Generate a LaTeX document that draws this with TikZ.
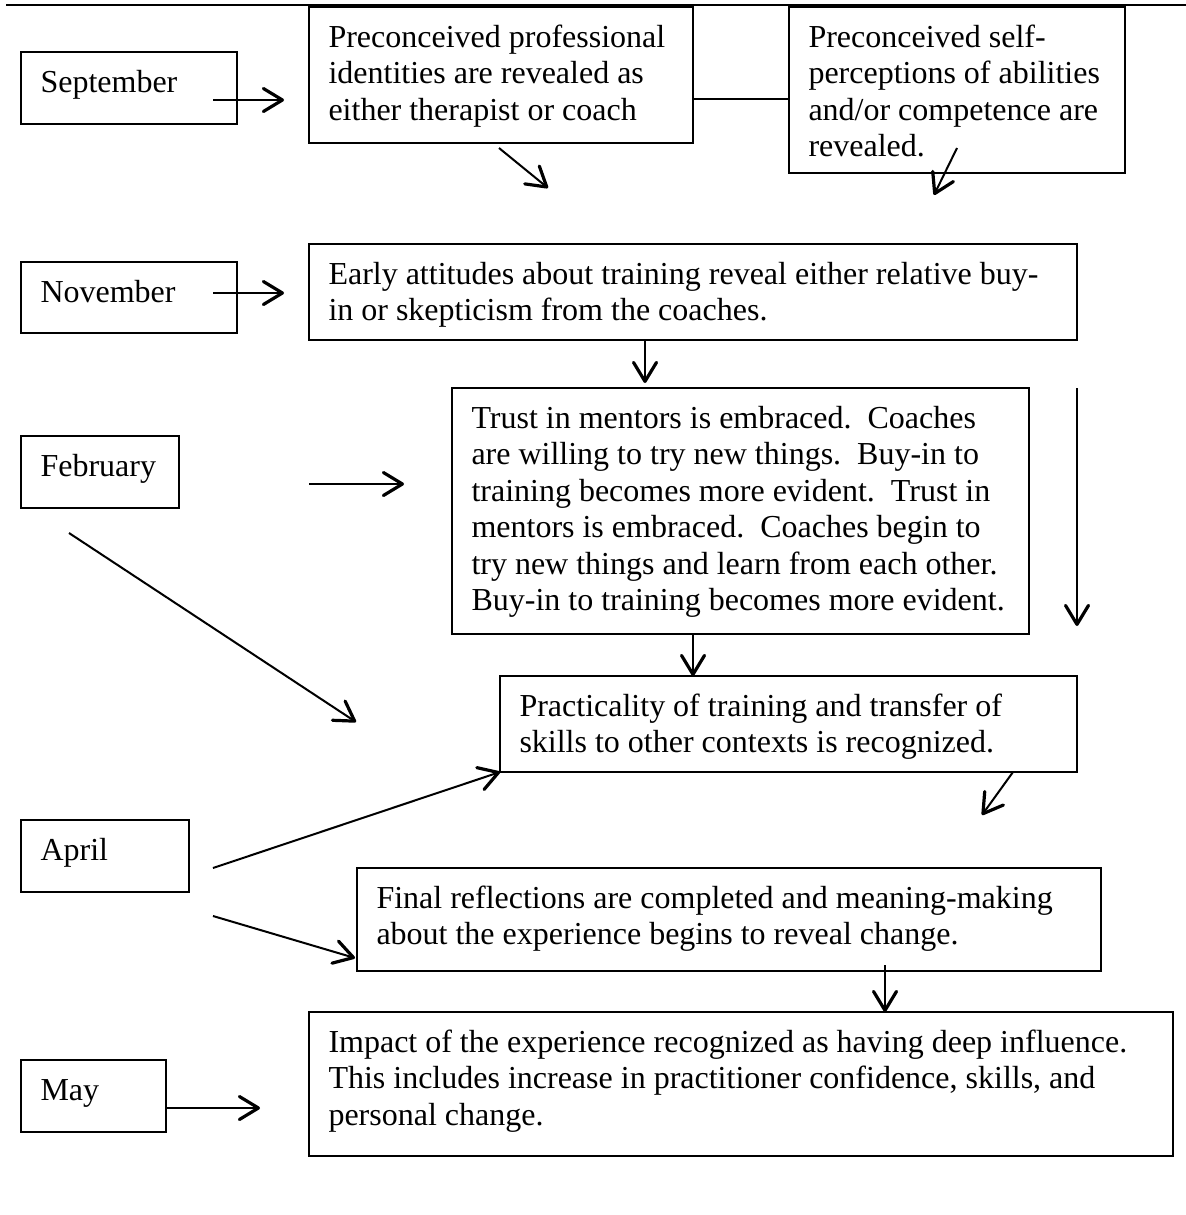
\documentclass[tikz,border=0pt]{standalone}
\usepackage{fontspec}
\setmainfont{Liberation Serif}
\usepackage{tikz}
\usetikzlibrary{arrows.meta}% Straight Barb tips
\tikzset{every node/.style={font=\fontsize{16pt}{18.25pt}\selectfont}}
\tikzset{tbox/.style={draw, line width=1pt, anchor=north west,
  inner xsep=0pt, inner ysep=7.4pt, outer sep=0pt},
  >={Straight Barb[length=9.5pt,width=11.5pt,line width=1.6pt,round]}}
\newdimen\px
\px=0.5pt
% text box: width and height in pixels, then the lines
\newcommand{\boxtext}[3]
{\parbox[c][\dimexpr#2\px-14.8pt\relax][t]{#1\px}{\raggedright
  \leftskip=9.75pt\strut #3}}

\begin{document}
\begin{tikzpicture}[x=0.5pt,y=-0.5pt,line width=1pt]
  \useasboundingbox (0,0) rectangle (1186,1215);
  \draw (6,5) -- (1186,5);
  % months
  \node[tbox] (sep) at (21,52) {\boxtext{216}{72}{September}};
  \node[tbox] (nov) at (21,262) {\boxtext{216}{71}{November}};
  \node[tbox] (feb) at (21,436) {\boxtext{158}{72}{February}};
  \node[tbox] (apr) at (21,820) {\boxtext{168}{72}{April}};
  \node[tbox] (may) at (21,1060) {\boxtext{145}{72}{May}};
  % stages
  \node[tbox] (prof) at (309,7) {\boxtext{384}{136}{Preconceived professional\\
    identities are revealed as\\either therapist or coach}};
  \node[tbox] (self) at (789,7) {\boxtext{336}{166}{Preconceived self-\\
    perceptions of abilities\\and/or competence are\\revealed.}};
  \node[tbox] (early) at (309,244) {\boxtext{768}{96}{Early attitudes about
    training reveal either relative buy-\\in or skepticism from the coaches.}};
  \node[tbox] (trust) at (452,388) {\boxtext{577}{246}{Trust in mentors is
    embraced.\ \ Coaches\\are willing to try new things.\ \ Buy-in to\\
    training becomes more evident.\ \ Trust in\\mentors is embraced.\ \
    Coaches begin to\\try new things and learn from each other.\\
    Buy-in to training becomes more evident.}};
  \node[tbox] (prac) at (500,676) {\boxtext{577}{96}{Practicality of training
    and transfer of\\skills to other contexts is recognized.}};
  \node[tbox] (final) at (357,868) {\boxtext{744}{103}{Final reflections are
    completed and meaning-making\\about the experience begins to reveal
    change.}};
  \node[tbox] (impact) at (309,1012) {\boxtext{864}{144}{Impact of the
    experience recognized as having deep influence.\\This includes increase
    in practitioner confidence, skills, and\\personal change.}};
  % connectors
  \draw[->] ([shift={(-24,12)}]sep.east) -- ([shift={(-25,25)}]prof.west);
  \draw ([shift={(0,24)}]prof.east) -- ([shift={(0,9)}]self.west);
  \draw[->] ([shift={(-2,5)}]prof.south) -- ([shift={(47,45)}]prof.south);
  \draw[->] ([shift={(0,-25)}]self.south) -- ([shift={(-23,22)}]self.south);
  \draw[->] ([shift={(-24,-4.5)}]nov.east) -- ([shift={(-25,1)}]early.west);
  \draw[->] ([shift={(-48,0)}]early.south) -- ([shift={(-48,43)}]early.south);
  \draw[->] ([shift={(130,12)}]feb.east) -- ([shift={(-48,-27)}]trust.west);
  \draw[->] ([shift={(48,0)}]trust.north east)
    -- ([shift={(48,-8)}]trust.south east);
  \draw[->] ([shift={(-31,25)}]feb.south) -- ([shift={(-144,-50)}]prac.south west);
  \draw[->] ([shift={(-47.5,0)}]trust.south) -- ([shift={(-95.5,0)}]prac.north);
  \draw[->] ([shift={(-64,0)}]prac.south east)
    -- ([shift={(-119,-53)}]final.north east);
  \draw[->] ([shift={(24,12)}]apr.east) -- (prac.south west);
  \draw[->] ([shift={(24,60)}]apr.east) -- ([shift={(-2,38.5)}]final.west);
  \draw[->] ([shift={(156,-6)}]final.south) -- ([shift={(144,0)}]impact.north);
  \draw[->] ([shift={(0,12)}]may.east) -- ([shift={(-49,24)}]impact.west);
\end{tikzpicture}
\end{document}
